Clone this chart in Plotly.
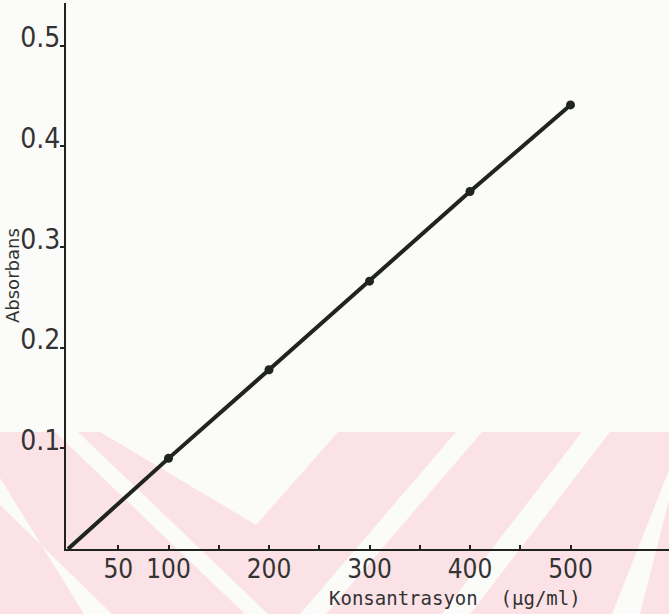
import plotly.graph_objects as go

# Calibration data: concentration (µg/ml) vs absorbance
konsantrasyon = [0, 100, 200, 300, 400, 500]
absorbans = [0.0, 0.090, 0.178, 0.266, 0.355, 0.441]

x_tick_vals = [50, 100, 150, 200, 250, 300, 350, 400, 450, 500]
x_tick_text = ["50", "100", "", "200", "", "300", "", "400", "", "500"]
y_tick_vals = [0.1, 0.2, 0.3, 0.4, 0.5]
y_tick_text = ["0.1", "0.2", "0.3", "0.4", "0.5"]

W, H = 669, 614
ML, MR, MT, MB = 66, 0, 3, 65
PW, PH = W - ML - MR, H - MT - MB

INK = "#1f2421"
TEXT = "#333333"
PAPER = "#fbfbf9"
PINK = "#fbe2e6"


def to_paper(px, py):
    return (px - ML) / PW, (H - MB - py) / PH


def poly_path(points):
    pts = [to_paper(px, py) for px, py in points]
    return "M " + " L ".join(f"{x:.4f},{y:.4f}" for x, y in pts) + " Z"


# light watermark band along the bottom of the page
band = [(0, 432), (W, 432), (W, H), (0, H)]
gaps = [
    [(55, 432), (78, 432), (268, 614), (245, 614)],
    [(0, 478), (0, 505), (112, 614), (84, 614)],
    [(100, 432), (338, 432), (256, 525)],
    [(456, 432), (482, 432), (326, 614), (300, 614)],
    [(582, 432), (610, 432), (470, 614), (442, 614)],
    [(669, 470), (669, 500), (640, 614), (612, 614)],
]

shapes = [dict(type="path", xref="paper", yref="paper", path=poly_path(band),
               fillcolor=PINK, line=dict(width=0), layer="below")]
for g in gaps:
    shapes.append(dict(type="path", xref="paper", yref="paper", path=poly_path(g),
                       fillcolor=PAPER, line=dict(width=0), layer="below"))

fig = go.Figure()
fig.add_trace(go.Scatter(
    x=konsantrasyon, y=absorbans, mode="lines",
    line=dict(color=INK, width=4), hoverinfo="skip", showlegend=False,
))
fig.add_trace(go.Scatter(
    x=konsantrasyon[1:], y=absorbans[1:], mode="markers",
    marker=dict(color=INK, size=9), showlegend=False,
))

tick_font = "DejaVu Sans Condensed, sans-serif"

fig.update_layout(
    width=W, height=H,
    margin=dict(l=ML, r=MR, t=MT, b=MB),
    paper_bgcolor=PAPER, plot_bgcolor="rgba(0,0,0,0)",
    shapes=shapes,
    xaxis=dict(
        range=[-2, -2 + PW / 1.005], showgrid=False, zeroline=False,
        showline=True, linecolor=INK, linewidth=2,
        tickmode="array", tickvals=x_tick_vals, ticktext=x_tick_text,
        ticks="inside", ticklen=4, tickwidth=1.5, tickcolor=INK,
        tickfont=dict(family=tick_font, size=26, color=TEXT),
        ticklabelstandoff=-4,
    ),
    yaxis=dict(
        range=[0, PH / 1007], showgrid=False, zeroline=False,
        showline=True, linecolor=INK, linewidth=2,
        tickmode="array", tickvals=y_tick_vals, ticktext=y_tick_text,
        ticks="outside", ticklen=4, tickwidth=1.5, tickcolor=INK,
        tickfont=dict(family=tick_font, size=28, color=TEXT),
        ticklabelshift=-8, ticklabelstandoff=-6,
    ),
    annotations=[
        dict(text="Absorbans", xref="paper", yref="paper",
             x=to_paper(12, 276)[0], y=to_paper(12, 276)[1],
             textangle=-90, showarrow=False, xanchor="center", yanchor="middle",
             font=dict(family="DejaVu Sans", size=18, color=TEXT)),
        dict(text="Konsantrasyon  (µg/ml)", xref="paper", yref="paper",
             x=to_paper(455, 598)[0], y=to_paper(455, 598)[1],
             showarrow=False, xanchor="center", yanchor="middle",
             font=dict(family="DejaVu Sans Mono", size=19, color=TEXT)),
    ],
)

fig.write_html("out.html")
